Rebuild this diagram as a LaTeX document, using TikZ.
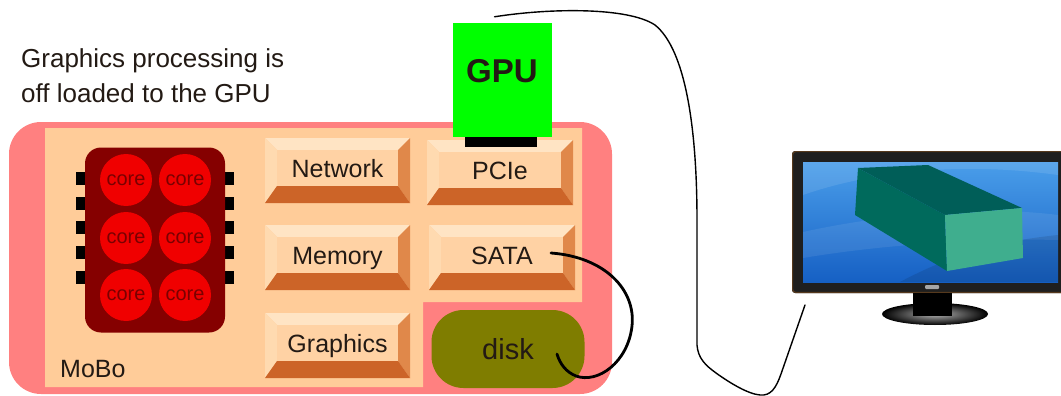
\documentclass[tikz,border=0pt]{standalone}
\usepackage{fontspec}
\setmainfont{Liberation Sans}
\usetikzlibrary{calc,shapes.geometric}

\definecolor{moboedge}{HTML}{FF8080}
\definecolor{moboboard}{HTML}{FFCC99}
\definecolor{bvtopc}{HTML}{FFE4C4}
\definecolor{bvleftc}{HTML}{FFDAB0}
\definecolor{bvrightc}{HTML}{E0884A}
\definecolor{bvbottomc}{HTML}{CC6428}
\definecolor{bvfacec}{HTML}{FFD2A4}
\definecolor{chipc}{HTML}{850000}
\definecolor{corec}{HTML}{F00000}
\definecolor{coretextc}{HTML}{7A0000}
\definecolor{diskc}{HTML}{7F7D00}
\definecolor{gpuc}{HTML}{00FF00}
\definecolor{inkc}{HTML}{231A14}
\definecolor{screentop}{HTML}{4A9EEA}
\definecolor{screenbot}{HTML}{1660C4}
\definecolor{boxtopc}{HTML}{005E58}
\definecolor{boxsidec}{HTML}{006A5C}
\definecolor{boxfrontc}{HTML}{3FAE8E}

% a raised bevelled button: name, x1, y1, x2, y2, label
\newcommand\bevelbtn[6]{%
  \fill[bvtopc] (#2,#3) -- (#4,#3) -- ({#4-12},{#3+12}) -- ({#2+12},{#3+12}) -- cycle;
  \fill[bvleftc] (#2,#3) -- ({#2+12},{#3+12}) -- ({#2+12},{#5-17}) -- (#2,#5) -- cycle;
  \fill[bvrightc] (#4,#3) -- (#4,#5) -- ({#4-12},{#5-17}) -- ({#4-12},{#3+12}) -- cycle;
  \fill[bvbottomc] (#2,#5) -- ({#2+12},{#5-17}) -- ({#4-12},{#5-17}) -- (#4,#5) -- cycle;
  \fill[bvfacec] ({#2+12},{#3+12}) rectangle ({#4-12},{#5-17});
  \node[btnlabel] (#1) at ({(#2+#4)/2},{(#3+#5-5)/2}) {#6};
}

\begin{document}
\begin{tikzpicture}[x=1pt,y=-1pt,
  btnlabel/.style={inner sep=0pt, text height=18pt, text depth=0pt,
    text=inkc, font=\fontsize{25}{30}\selectfont},
  corenode/.style={circle, fill=corec, minimum size=52pt, inner sep=0pt,
    text=coretextc, font=\fontsize{20}{24}\selectfont},
  pin/.style={fill=black},
  cable/.style={draw=black, line width=1.4pt, line cap=round},
  satacable/.style={draw=black, line width=2.8pt, line cap=round}]

\clip (0,0) rectangle (1061,396);
\fill[white] (0,0) rectangle (1061,396);

% caption
\node[anchor=north west, align=left, inner sep=0pt, text=inkc,
  font=\fontsize{26}{35}\selectfont] (caption) at (21,48)
  {Graphics processing is\\off loaded to the GPU};

% motherboard
\fill[moboedge, rounded corners=32pt] (9,122) rectangle (612,394);
\fill[moboboard] (45,128) -- (582,128) -- (582,302) -- (423,302)
  -- (423,387) -- (45,387) -- cycle;
\node[anchor=base west, inner sep=0pt, text=inkc,
  font=\fontsize{25}{30}\selectfont] (mobo) at (60,377) {MoBo};

% CPU package with pins and six cores
\foreach \py in {178,203,227,252,277}{
  \fill[pin] (76,\py-6.5) rectangle (88,\py+6.5);
  \fill[pin] (222,\py-6.5) rectangle (234,\py+6.5);
}
\node[fill=chipc, rounded corners=16pt, minimum width=140pt,
  minimum height=185pt, inner sep=0pt] (cpu) at (155,240) {};
\node[corenode] (c11) at (126,180) {core};
\node[corenode] (c12) at (185,180) {core};
\node[corenode] (c21) at (126,238) {core};
\node[corenode] (c22) at (185,238) {core};
\node[corenode] (c31) at (126,295) {core};
\node[corenode] (c32) at (185,295) {core};

% controllers on the board
\bevelbtn{network}{265}{138}{410}{203}{Network}
\bevelbtn{pcie}{427}{140}{573}{205}{PCIe}
\bevelbtn{memory}{265}{225}{410}{290}{Memory}
\bevelbtn{sata}{429}{225}{575}{290}{SATA}
\bevelbtn{graphics}{265}{313}{410}{378}{Graphics}

% disk
\node[fill=diskc, rounded corners=32pt, minimum width=153pt,
  minimum height=78pt, inner sep=0pt, text=inkc,
  font=\fontsize{29}{34}\selectfont] (disk) at (508,349) {disk};

% GPU card seated in the PCIe slot
\fill[black] (465,135) rectangle (537,147);
\node[fill=gpuc, minimum width=99pt, minimum height=114pt, inner sep=0pt]
  (gpu) at (502.5,80) {};
\node[inner sep=0pt, text=inkc, font=\bfseries\fontsize{33}{38}\selectfont]
  (gputext) at (502,71) {GPU};

% SATA cable to the disk
\draw[satacable] ($(sata.east)+(18,-2)$) .. controls (605,257) and (636,290) .. (632,326)
  .. controls (628,362) and (598,384) .. (576,376)
  .. controls (566,372) and (560,364) .. ($(disk.center)+(49,5)$);

% monitor
\fill[black!88, rounded corners=3pt] (792,151) rectangle (1070,293);
\draw[black!55!brown, line width=1.2pt, rounded corners=3pt] (792.6,151.6) rectangle (1070,292.4);
\shade[top color=screentop, bottom color=screenbot] (803,162) rectangle (1058,282);
\fill[white, opacity=0.10] (803,195) .. controls (860,175) and (950,160) .. (1058,175)
  -- (1058,162) -- (803,162) -- cycle;
\fill[white, opacity=0.08] (803,232) .. controls (880,215) and (980,205) .. (1058,215)
  -- (1058,240) .. controls (980,238) and (880,245) .. (803,258) -- cycle;
\fill[black, opacity=0.10] (900,282) .. controls (960,250) and (1010,240) .. (1058,235)
  -- (1058,282) -- cycle;
% 3D box on the screen
\fill[boxsidec] (858,168) -- (945,215) -- (947,271) -- (855,215) -- cycle;
\fill[boxtopc] (858,168) -- (928,165) -- (1022,208) -- (945,215) -- cycle;
\fill[boxfrontc] (945,215) -- (1022,208) -- (1023,258) -- (947,271) -- cycle;
% logo and stand
\fill[gray!70, rounded corners=1pt] (925,285) rectangle (939,289);
\shade[inner color=gray!60, outer color=black] (935,314) ellipse [x radius=53, y radius=11];
\fill[black] (913,293) rectangle (952,316);

% display cable from the GPU to the monitor
\coordinate (plug) at (805,305);
\draw[cable] ($(gpu.north)+(-8,-6)$) .. controls (550,8) and (628,7) .. (655,25)
  .. controls (686,50) and (697,130) .. (697,220) -- (697,345)
  .. controls (698,358) and (705,365) .. (716,373)
  .. controls (730,383) and (748,394) .. (760,395)
  .. controls (771,396) and (776,388) .. (781,374) -- (plug);

\end{tikzpicture}
\end{document}
